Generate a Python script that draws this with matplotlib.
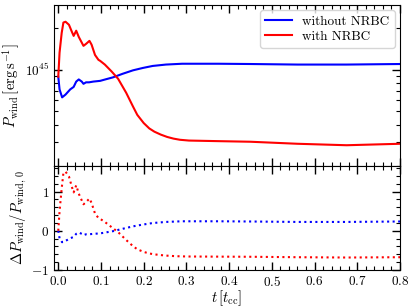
import numpy as np
import matplotlib
matplotlib.use('Agg')
import matplotlib.pyplot as plt
from matplotlib.ticker import AutoMinorLocator, MultipleLocator, LogLocator, NullFormatter

plt.rcParams['font.family'] = ['cmr10', 'DejaVu Serif']
plt.rcParams['mathtext.fontset'] = 'cm'
plt.rcParams['axes.formatter.use_mathtext'] = True
plt.rcParams['font.size'] = 9.5

# wind power in units of 1e45 erg/s
t_blue = [0.0, 0.003, 0.009, 0.017, 0.028, 0.036, 0.042, 0.048, 0.055, 0.059,
          0.065, 0.072, 0.082, 0.098, 0.11, 0.128, 0.151, 0.175, 0.198, 0.221,
          0.252, 0.29, 0.375, 0.45, 0.56, 0.675, 0.8]
p_blue = [0.89, 0.72, 0.63, 0.66, 0.72, 0.75, 0.82, 0.85, 0.82, 0.79,
          0.81, 0.81, 0.82, 0.83, 0.85, 0.88, 0.935, 0.99, 1.03, 1.065,
          1.09, 1.105, 1.105, 1.10, 1.09, 1.09, 1.10]

t_red = [0.0, 0.003, 0.008, 0.012, 0.017, 0.025, 0.032, 0.036, 0.042, 0.048,
         0.059, 0.065, 0.073, 0.078, 0.086, 0.094, 0.098, 0.109, 0.125, 0.14,
         0.159, 0.175, 0.185, 0.2, 0.213, 0.225, 0.24, 0.255, 0.27, 0.285,
         0.306, 0.375, 0.45, 0.56, 0.675, 0.8]
p_red = [0.89, 1.33, 1.85, 2.2, 2.23, 2.12, 1.88, 1.76, 1.92, 1.73,
         1.49, 1.54, 1.62, 1.52, 1.28, 1.18, 1.16, 1.09, 0.97, 0.86,
         0.68, 0.54, 0.47, 0.41, 0.375, 0.355, 0.338, 0.325, 0.316, 0.31,
         0.306, 0.303, 0.30, 0.29, 0.283, 0.29]

t_blue = np.array(t_blue)
p_blue = np.array(p_blue) * 1e45
t_red = np.array(t_red)
p_red = np.array(p_red) * 1e45

fig = plt.figure(figsize=(4.15, 3.08), dpi=100)
W, H = 415, 308
ax1 = fig.add_axes([54 / W, (H - 166) / H, 346 / W, 161 / H])
ax2 = fig.add_axes([54 / W, (H - 270) / H, 346 / W, 104 / H], sharex=ax1)

ax1.plot(t_blue, p_blue, color='blue', lw=1.5, label='without NRBC')
ax1.plot(t_red, p_red, color='red', lw=1.5, label='with NRBC')
ax1.set_yscale('log')
ax1.set_ylim(2e44, 2.95e45)
ax1.yaxis.set_major_locator(LogLocator(base=10, numticks=5))
ax1.yaxis.set_minor_locator(LogLocator(base=10, subs=np.arange(2, 10), numticks=10))
ax1.yaxis.set_minor_formatter(NullFormatter())
ax1.set_ylabel(r'$P_{\rm wind}\,[{\rm erg\,s^{-1}}]$', fontsize=10.5, labelpad=2)
ax1.legend(loc='upper right', fontsize=9.5, handlelength=2.0, borderaxespad=0.4,
           labelspacing=0.2)
plt.setp(ax1.get_xticklabels(), visible=False)

ax2.plot(t_blue, p_blue / p_blue[0] - 1, color='blue', lw=1.5, ls=':')
ax2.plot(t_red, p_red / p_red[0] - 1, color='red', lw=1.5, ls=':')
ax2.set_ylim(-1, 1.65)
ax2.set_xlim(-0.01, 0.8)
ax2.xaxis.set_major_locator(MultipleLocator(0.1))
ax2.xaxis.set_minor_locator(AutoMinorLocator(5))
ax2.yaxis.set_major_locator(MultipleLocator(1))
ax2.yaxis.set_minor_locator(AutoMinorLocator(5))
ax2.set_xlabel(r'$t\,[t_{\rm cc}]$', fontsize=10.5, labelpad=0)
ax2.set_ylabel(r'$\Delta P_{\rm wind}/P_{\rm wind,\,0}$', fontsize=10.5, labelpad=2)

for ax in (ax1, ax2):
    ax.tick_params(which='both', direction='in', top=True, right=True)
    ax.tick_params(which='major', length=6, width=1)
    ax.tick_params(which='minor', length=3, width=0.8)

fig.savefig('out.png', dpi=100)
